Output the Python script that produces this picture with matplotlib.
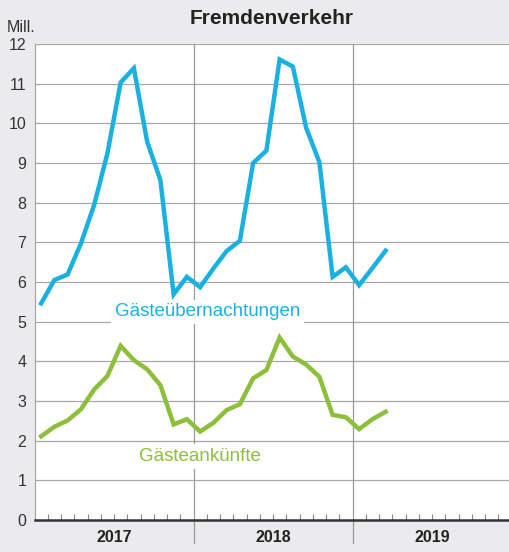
import numpy as np
import matplotlib
matplotlib.use("Agg")
import matplotlib.pyplot as plt
from matplotlib.ticker import FixedLocator, NullFormatter

plt.rcParams["font.family"] = ["Liberation Sans", "DejaVu Sans"]

# Monatswerte Jan 2017 - Mär 2019 (Mill.)
naechtigungen = [5.46, 6.05, 6.19, 6.97, 7.94, 9.24, 11.03, 11.39, 9.54, 8.57, 5.69, 6.13,
                 5.87, 6.34, 6.78, 7.04, 9.00, 9.31, 11.61, 11.43, 9.89, 9.02, 6.13, 6.37,
                 5.92, 6.35, 6.79]
ankuenfte = [2.11, 2.35, 2.51, 2.79, 3.29, 3.63, 4.39, 4.03, 3.80, 3.40, 2.41, 2.54,
             2.23, 2.45, 2.77, 2.92, 3.57, 3.78, 4.60, 4.12, 3.92, 3.61, 2.65, 2.59,
             2.29, 2.54, 2.73]
jahre = ["2017", "2018", "2019"]

BLUE = "#1ab1e2"
GREEN = "#8cc03a"
GRID = "#a8a8a8"
BG = "#ebebed"

fig = plt.figure(figsize=(5.09, 5.52), dpi=100, facecolor=BG)
ax = fig.add_axes([34.5 / 509, 32 / 552, 1 - 34.5 / 509, 476 / 552])
ax.set_facecolor("white")

x = np.arange(len(naechtigungen)) + 0.5
ax.plot(x, naechtigungen, color=BLUE, lw=3.2, solid_joinstyle="miter", zorder=4)
ax.plot(x, ankuenfte, color=GREEN, lw=3.2, solid_joinstyle="miter", zorder=4)

ax.set_xlim(0, 474.5 / 13.25)
ax.set_ylim(0, 12)

# Raster
for v in range(1, 13):
    ax.axhline(v, color=GRID, lw=0.9, zorder=1)
for j in range(1, 3):
    ax.axvline(12 * j, ymin=-0.048, ymax=1, color="#999999", lw=0.9, zorder=1, clip_on=False)

for s in ["top", "right"]:
    ax.spines[s].set_visible(False)
ax.spines["left"].set_color(GRID)
ax.spines["left"].set_linewidth(0.9)
ax.spines["bottom"].set_color("#333333")
ax.spines["bottom"].set_linewidth(1.8)
ax.spines["bottom"].set_zorder(5)

ax.set_yticks(range(0, 13))
ax.tick_params(axis="y", length=0, labelsize=11.5, labelcolor="#333333", pad=6)
ax.set_xticks([])
months = [m for m in range(1, 36) if m % 12 != 0]
ax.xaxis.set_minor_locator(FixedLocator(months))
ax.xaxis.set_minor_formatter(NullFormatter())
ax.tick_params(axis="x", which="minor", direction="in", length=4.5, width=0.8, color="#888888")

for j, yr in enumerate(jahre):
    ax.text(12 * j + 6, -0.45, yr, ha="center", va="center", fontsize=11.5,
            fontweight="bold", color="#222222", clip_on=False)

ax.text(13.06, 5.25, "Gästeübernachtungen", color=BLUE, fontsize=13.5, ha="center",
        va="center", zorder=3, bbox=dict(facecolor="white", edgecolor="none", pad=2.5))
ax.text(12.45, 1.6, "Gästeankünfte", color=GREEN, fontsize=13.5, ha="center",
        va="center", zorder=3, bbox=dict(facecolor="white", edgecolor="none", pad=2.5))

fig.text(271.75 / 509, 1 - 18 / 552, "Fremdenverkehr", ha="center", va="center",
         fontsize=15, fontweight="bold", color="#222222")
fig.text(7 / 509, 1 - 27 / 552, "Mill.", ha="left", va="center", fontsize=11.5, color="#333333")

fig.savefig("out.png", dpi=100, facecolor=BG)
